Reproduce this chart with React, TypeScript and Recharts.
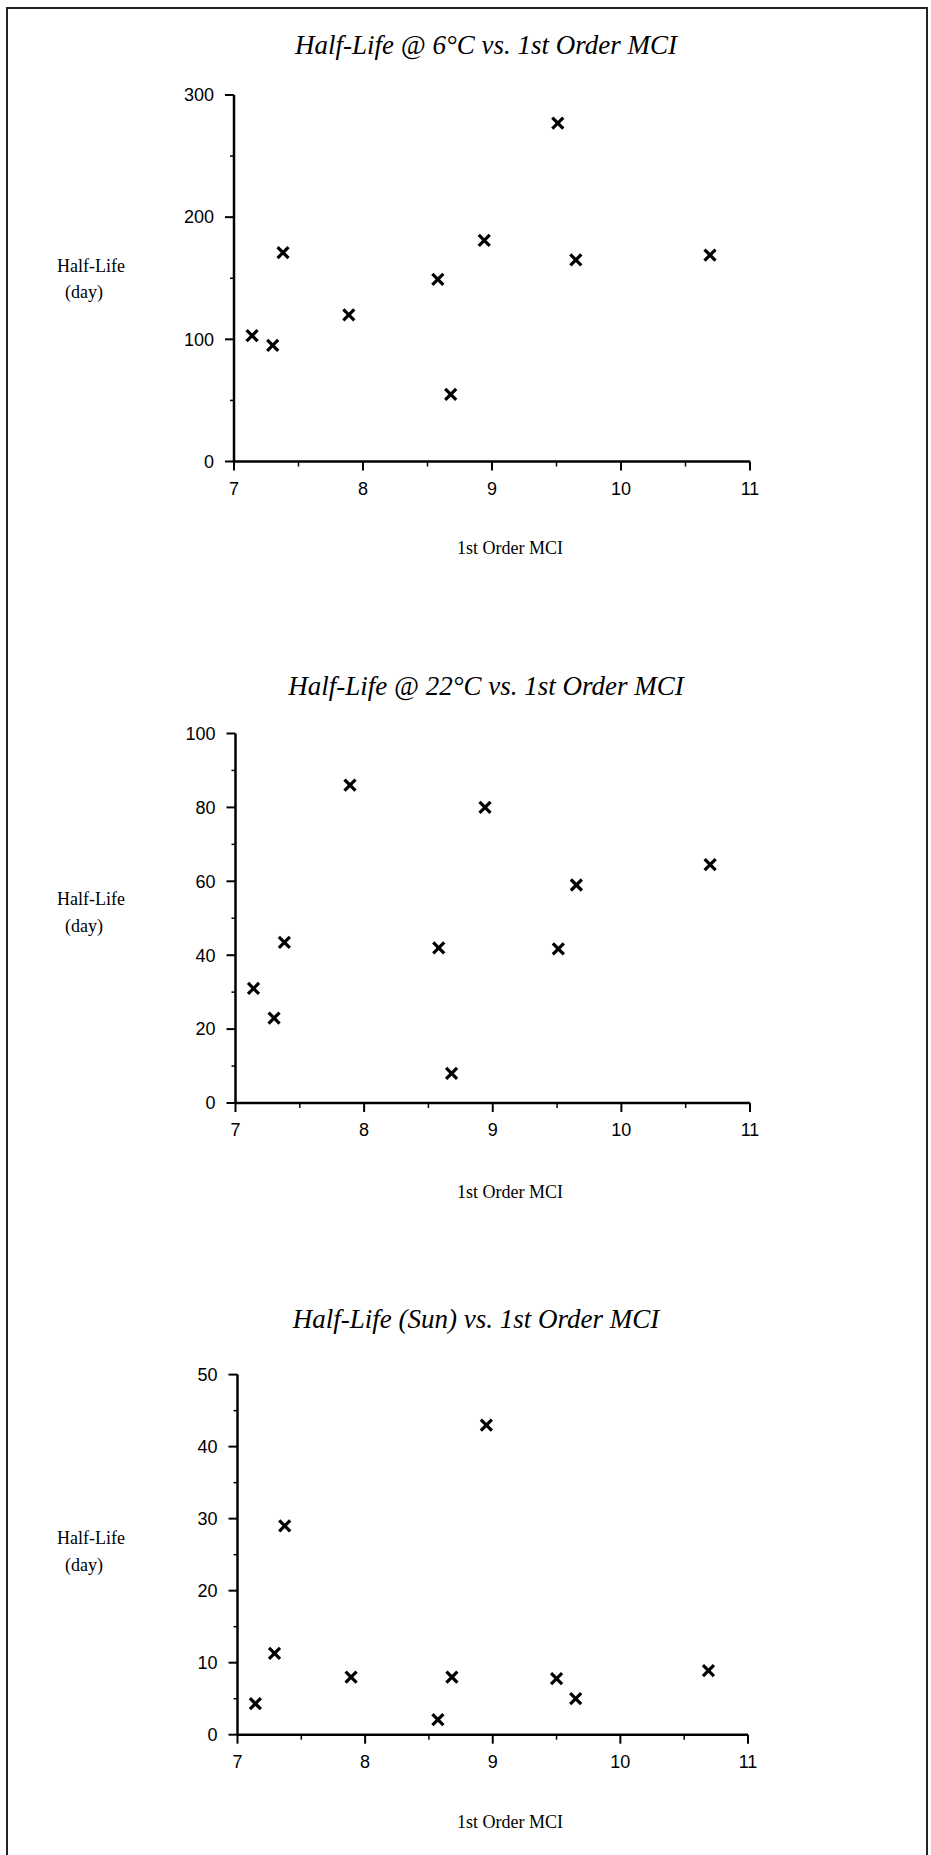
import React from "react";
import { ScatterChart, Scatter, XAxis, YAxis } from "recharts";

// 1st Order MCI values (x) shared by the three plots
const mci6 = [7.14, 7.3, 7.38, 7.89, 8.58, 8.68, 8.94, 9.51, 9.65, 10.69];
const mci22 = [7.14, 7.3, 7.38, 7.89, 8.58, 8.68, 8.94, 9.51, 9.65, 10.69];
const mciSun = [7.14, 7.29, 7.37, 7.89, 8.57, 8.68, 8.95, 9.5, 9.65, 10.69];

// Half-life (day)
const halfLife6C = [103, 95, 171, 120, 149, 55, 181, 277, 165, 169];
const halfLife22C = [31, 23, 43.5, 86, 42, 8, 80, 41.7, 59, 64.5];
const halfLifeSun = [4.3, 11.3, 29, 8, 2.1, 8, 43, 7.8, 5, 8.9];

const xTicks = [7, 7.5, 8, 8.5, 9, 9.5, 10, 10.5, 11];
const yTicks6C = [0, 50, 100, 150, 200, 250, 300];
const yTicks22C = [0, 10, 20, 30, 40, 50, 60, 70, 80, 90, 100];
const yTicksSun = [0, 5, 10, 15, 20, 25, 30, 35, 40, 45, 50];

const titles = [
  "Half-Life @ 6\u00B0C vs. 1st Order MCI",
  "Half-Life @ 22\u00B0C vs. 1st Order MCI",
  "Half-Life (Sun) vs. 1st Order MCI",
];
const xLabel = "1st Order MCI";
const yLabelLine1 = "Half-Life";
const yLabelLine2 = "(day)";

const build = (xs: number[], ys: number[]) => xs.map((x, i) => ({ x, y: ys[i] }));

const SANS = "'Liberation Sans', Arial, Helvetica, sans-serif";
const SERIF = "'Liberation Serif', 'Times New Roman', serif";

const isMajor = (v: number, step: number) => Math.abs(v / step - Math.round(v / step)) < 1e-6;

const makeYTick = (step: number) => (props: any) => {
  const { x, y, payload } = props;
  const v = payload.value;
  const major = isMajor(v, step);
  return (
    <g>
      <line x1={x - (major ? 9 : 4)} x2={x} y1={y} y2={y} stroke="#000" strokeWidth={major ? 2 : 1.5} />
      {major && (
        <text x={x - 20} y={y} dy="0.35em" textAnchor="end" fontFamily={SANS} fontSize={18} fill="#000">
          {v}
        </text>
      )}
    </g>
  );
};

const XTick = (props: any) => {
  const { x, y, payload } = props;
  const v = payload.value;
  const major = isMajor(v, 1);
  return (
    <g>
      <line x1={x} x2={x} y1={y} y2={y + (major ? 9 : 5)} stroke="#000" strokeWidth={major ? 2 : 1.5} />
      {major && (
        <text x={x} y={y + 27} dy="0.35em" textAnchor="middle" fontFamily={SANS} fontSize={18} fill="#000">
          {v}
        </text>
      )}
    </g>
  );
};

const Cross = (props: any) => {
  const { cx, cy } = props;
  if (cx == null || cy == null) return <g />;
  const s = 5.5;
  return (
    <g>
      <line x1={cx - s} y1={cy - s} x2={cx + s} y2={cy + s} stroke="#000" strokeWidth={3.2} />
      <line x1={cx - s} y1={cy + s} x2={cx + s} y2={cy - s} stroke="#000" strokeWidth={3.2} />
    </g>
  );
};

type PanelProps = {
  top: number;
  height: number;
  margin: { top: number; right: number; bottom: number; left: number };
  data: { x: number; y: number }[];
  yMax: number;
  yTicks: number[];
  yStep: number;
};

// margin.left / margin.bottom given here are the plot edges; axes take 1px each
const Panel = ({ top, height, margin, data, yMax, yTicks, yStep }: PanelProps) => (
  <div style={{ position: "absolute", left: 0, top }}>
    <ScatterChart
      width={931}
      height={height}
      margin={{ top: margin.top, right: margin.right, bottom: margin.bottom - 1, left: margin.left - 1 }}
    >
      <XAxis
        type="number"
        dataKey="x"
        domain={[7, 11]}
        ticks={xTicks}
        interval={0}
        allowDecimals
        height={1}
        tickSize={0}
        tickMargin={0}
        tickLine={false}
        tick={XTick}
        axisLine={{ stroke: "#000", strokeWidth: 2.5 }}
      />
      <YAxis
        type="number"
        dataKey="y"
        domain={[0, yMax]}
        ticks={yTicks}
        interval={0}
        width={1}
        tickSize={0}
        tickMargin={0}
        tickLine={false}
        tick={makeYTick(yStep)}
        axisLine={{ stroke: "#000", strokeWidth: 2.5 }}
      />
      <Scatter data={data} shape={Cross} isAnimationActive={false} />
    </ScatterChart>
  </div>
);

const TextAt = ({ cx, cy, size, italic, children, left }: any) => (
  <div
    style={{
      position: "absolute",
      left: left != null ? left : cx - 300,
      top: cy - size / 2,
      width: left != null ? undefined : 600,
      textAlign: left != null ? "left" : "center",
      fontFamily: SERIF,
      fontStyle: italic ? "italic" : "normal",
      fontSize: size,
      lineHeight: `${size}px`,
      whiteSpace: "nowrap",
      color: "#000",
    }}
  >
    {children}
  </div>
);

export default function App() {
  return (
    <div style={{ position: "absolute", left: 0, top: 0, width: 931, height: 1855, background: "#fff", overflow: "hidden" }}>
      {/* page frame */}
      <div style={{ position: "absolute", left: 6, top: 7, width: 921, height: 2, background: "#222" }} />
      <div style={{ position: "absolute", left: 6, top: 7, width: 2, height: 1848, background: "#222" }} />
      <div style={{ position: "absolute", left: 926, top: 7, width: 2, height: 1848, background: "#222" }} />

      <TextAt cx={486} cy={45} size={27} italic>{titles[0]}</TextAt>
      <TextAt cx={486} cy={686} size={27} italic>{titles[1]}</TextAt>
      <TextAt cx={476} cy={1319} size={27} italic>{titles[2]}</TextAt>

      <Panel
        top={0}
        height={620}
        margin={{ top: 95, right: 181, bottom: 158.5, left: 234 }}
        data={build(mci6, halfLife6C)}
        yMax={300}
        yTicks={yTicks6C}
        yStep={100}
      />
      <Panel
        top={620}
        height={620}
        margin={{ top: 113.5, right: 181, bottom: 137, left: 235.5 }}
        data={build(mci22, halfLife22C)}
        yMax={100}
        yTicks={yTicks22C}
        yStep={20}
      />
      <Panel
        top={1240}
        height={615}
        margin={{ top: 134.6, right: 183, bottom: 120.3, left: 237.5 }}
        data={build(mciSun, halfLifeSun)}
        yMax={50}
        yTicks={yTicksSun}
        yStep={10}
      />

      <TextAt cx={510} cy={548} size={18}>{xLabel}</TextAt>
      <TextAt cx={510} cy={1192} size={18}>{xLabel}</TextAt>
      <TextAt cx={510} cy={1822} size={18}>{xLabel}</TextAt>

      <TextAt left={57} cy={266} size={18}>{yLabelLine1}</TextAt>
      <TextAt left={65} cy={292} size={18}>{yLabelLine2}</TextAt>
      <TextAt left={57} cy={899} size={18}>{yLabelLine1}</TextAt>
      <TextAt left={65} cy={926} size={18}>{yLabelLine2}</TextAt>
      <TextAt left={57} cy={1538} size={18}>{yLabelLine1}</TextAt>
      <TextAt left={65} cy={1565} size={18}>{yLabelLine2}</TextAt>
    </div>
  );
}
